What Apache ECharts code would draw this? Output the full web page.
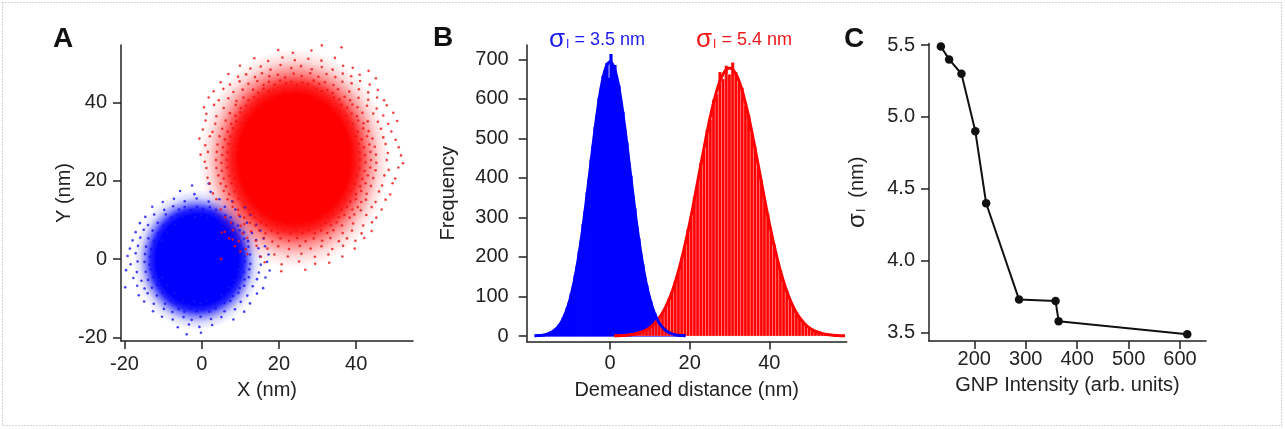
<!DOCTYPE html>
<html><head><meta charset="utf-8">
<script src="https://cdn.jsdelivr.net/npm/echarts@6/dist/echarts.min.js"></script>
<style>html,body{margin:0;padding:0;background:#fff}#c{width:1285px;height:429px}</style>
</head><body><div id="c"></div>
<script>
// ---------- Panel A: localisation clouds (nm) ----------
const ticksA = [-20, 0, 20, 40];
// dense cores: centre, x/y aspect and [radius, opacity] profile
const blueCloudCenter = [-1.1, -0.2];
const blueCloudAspect = 0.93;
const blueCloudProfile = [[0, 1], [11.5, 1], [13, 0.85], [14.5, 0.45], [16, 0.15], [18, 0]];
const redCloudCenter = [24, 25.7];
const redCloudAspect = 0.88;
const redCloudProfile = [[0, 1], [16.5, 1], [19, 0.85], [22, 0.45], [25, 0.15], [28, 0]];
// individual localisations visible around the cores
const blueDots = [
 [-2.5,18.8],[1.8,19.3],[-5.6,17.4],[-1.9,16.6],[2.3,17.2],
 [-10.1,14.6],[-7.2,15.4],[-4.4,14.8],[-1.3,15.5],[1.8,14.7],[4.6,15.3],[7.9,14.8],
 [-12.8,13.4],[-9.7,12.6],[-7.4,13.5],[-5.9,12.7],[-4.4,13.3],[-2.8,12.5],[-1.2,13.4],[0.4,12.8],[2.1,13.3],[3.7,12.6],[6.0,13.4],[8.7,12.7],[11.2,13.2],
 [-9.3,11.4],[-7.8,10.6],[-6.3,11.3],[-4.8,10.7],[-3.2,11.5],[-1.7,10.8],[-0.1,11.3],[1.4,10.6],[3.0,11.4],[4.5,10.8],[6.1,11.2],[7.5,10.7],[-14.6,10.8],[-12.3,11.4],[9.9,10.9],[12.6,11.3],
 [-11.4,9.3],[-9.9,8.6],[-8.4,9.2],[-7.0,8.7],[5.0,9.3],[6.5,8.7],[8.0,9.2],[9.4,8.6],[-16.0,9.2],[-13.9,8.7],[11.7,9.3],[14.1,8.8],
 [-12.7,7.3],[-11.3,6.6],[-9.9,7.4],[-8.9,6.8],[7.1,7.2],[8.5,6.7],[9.8,7.4],[10.9,6.8],[-17.1,6.9],[-15.0,7.5],[13.0,6.7],[15.2,7.3],
 [-13.8,5.3],[-12.4,4.6],[-11.1,5.2],[-10.2,4.8],[8.4,5.4],[9.7,4.7],[11.0,5.2],[12.0,4.6],[-17.9,4.8],[-15.9,5.5],[14.1,4.9],[16.0,5.3],
 [-14.4,3.2],[-13.1,2.6],[-11.9,3.4],[9.4,3.3],[10.7,2.6],[12.1,3.2],[-18.6,2.7],[-16.5,3.4],[14.7,2.8],[16.4,3.3],
 [-14.7,1.3],[-13.4,0.6],[-12.2,1.2],[9.8,1.4],[11.1,0.7],[12.5,1.2],[-19.2,0.8],[-17.1,1.5],[15.1,0.7],[17.3,1.2],
 [-14.8,-0.7],[-13.5,-1.4],[-12.2,-0.8],[9.9,-1.3],[11.2,-0.6],[12.6,-1.2],[-18.4,-1.3],[-16.6,-0.6],[15.3,-1.4],[16.9,-0.7],
 [-14.5,-3.2],[-13.2,-2.6],[-11.9,-3.4],[9.6,-2.7],[10.9,-3.3],[12.3,-2.6],[-19.6,-2.8],[-16.8,-3.3],[14.8,-3.4],[17.6,-2.9],
 [-13.9,-5.3],[-12.5,-4.6],[-11.2,-5.2],[-10.2,-4.7],[8.4,-5.4],[9.8,-4.7],[11.1,-5.2],[12.2,-4.6],[-17.7,-4.8],[-15.6,-5.5],[14.3,-5.1],[16.5,-4.7],
 [-12.9,-7.3],[-11.5,-6.6],[-10.1,-7.4],[-8.9,-6.8],[7.0,-7.2],[8.4,-6.6],[9.8,-7.4],[11.0,-6.8],[-19.8,-7.2],[-16.7,-6.8],[-14.8,-7.5],[13.2,-6.9],[15.9,-7.4],
 [-11.6,-9.3],[-10.1,-8.6],[-8.6,-9.2],[-7.1,-8.7],[5.1,-9.2],[6.6,-8.7],[8.1,-9.4],[9.5,-8.6],[-16.3,-9.2],[-14.0,-8.7],[11.8,-9.3],[14.3,-8.8],
 [-9.5,-11.4],[-8.0,-10.6],[-6.5,-11.3],[-5.0,-10.7],[-3.4,-11.5],[-1.9,-10.8],[-0.3,-11.3],[1.2,-10.6],[2.8,-11.4],[4.3,-10.8],[5.9,-11.2],[7.4,-10.7],[-14.9,-10.8],[-12.4,-11.4],[10.1,-10.9],[12.5,-11.3],
 [-6.0,-12.7],[-4.5,-13.4],[-2.9,-12.6],[-1.3,-13.3],[0.3,-12.8],[2.0,-13.4],[3.6,-12.6],[-12.6,-13.3],[-9.8,-12.7],[-7.6,-13.5],[5.9,-13.3],[8.6,-12.8],[11.0,-13.4],
 [-10.3,-14.7],[-7.5,-15.4],[-4.7,-14.8],[-2.6,-15.5],[-0.3,-14.7],[2.4,-15.3],[5.1,-14.8],[8.2,-15.4],
 [-6.2,-17.4],[-3.3,-16.7],[-0.6,-17.3],[2.7,-16.8],[-3.9,-19.2],[-0.2,-18.8]
];
const redDots = [
 [20.3,55.2],[31.1,54.6],[19.8,53.4],[23.6,52.7],[28.4,53.3],[36.2,54.1],
 [13.6,51.3],[17.2,50.6],[20.9,51.5],[24.1,50.8],[27.6,51.2],[31.0,50.7],[34.5,51.4],
 [9.9,49.4],[12.6,48.7],[15.3,49.2],[17.8,48.4],[20.4,49.6],[23.2,48.8],[25.7,49.3],[28.5,48.5],[31.1,49.1],[33.9,48.4],[36.6,49.4],[39.1,48.9],[43.2,48.1],
 [6.9,47.3],[9.4,46.6],[11.5,47.2],[13.8,46.5],[15.6,47.5],[17.5,46.7],[19.7,47.1],[21.6,46.4],[23.8,47.4],[25.9,46.8],[28.1,47.5],[30.2,46.6],[32.3,47.3],[34.6,46.5],[36.5,47.4],[38.7,46.7],[40.9,47.1],[45.1,46.2],
 [4.9,45.2],[7.3,44.6],[9.8,45.4],[12.1,44.8],[14.4,45.5],[16.0,44.5],[17.4,45.3],[18.9,44.6],[20.3,45.6],[21.8,44.9],[23.2,45.3],[24.6,44.4],[26.1,45.1],[27.5,44.7],[29.0,45.6],[30.4,44.8],[31.9,45.2],[34.1,44.5],[36.4,45.3],[38.8,44.9],[41.0,45.5],[43.5,44.6],
 [13.3,43.3],[14.6,42.5],[16.0,43.5],[17.3,42.8],[18.7,43.1],[20.1,42.4],[21.4,43.4],[22.8,42.9],[24.2,43.6],[25.6,42.6],[27.0,43.2],[28.4,42.5],[29.7,43.4],[31.1,42.9],[32.5,43.2],[33.9,42.4],[35.3,43.4],[3.1,42.9],[5.6,43.5],[8.2,42.7],[10.6,43.3],[38.2,42.8],[40.7,43.4],[43.1,42.6],[45.6,43.2],
 [10.8,41.3],[12.1,40.6],[13.5,41.4],[14.8,40.7],[16.2,41.5],[17.6,40.6],[19.0,41.2],[30.0,40.7],[31.4,41.4],[32.8,40.5],[34.2,41.3],[35.6,40.8],[37.0,41.5],[38.4,40.6],[1.8,41.3],[4.4,40.6],[6.9,41.1],[9.0,40.4],[40.6,41.2],[43.1,40.7],[45.4,41.3],[47.2,40.6],
 [8.8,39.4],[10.1,38.6],[11.5,39.2],[12.9,38.5],[14.3,39.5],[15.6,38.9],[33.4,39.3],[34.8,38.6],[36.2,39.4],[37.6,38.7],[39.0,39.5],[40.3,38.8],[0.6,38.8],[3.2,39.4],[5.7,38.6],[42.8,39.2],[45.3,38.5],[47.9,39.3],
 [7.3,37.3],[8.7,36.6],[10.0,37.5],[11.4,36.7],[12.8,37.1],[36.0,37.4],[37.4,36.6],[38.8,37.2],[40.2,36.5],[41.6,37.4],[1.2,37.1],[3.8,36.5],[44.4,37.2],[47.0,36.7],[49.6,37.4],
 [6.2,35.4],[7.6,34.6],[9.0,35.2],[10.3,34.7],[11.5,35.5],[37.8,35.1],[39.1,34.5],[40.5,35.4],[41.9,34.7],[43.0,35.2],[1.0,35.4],[3.5,34.6],[45.6,35.1],[48.3,34.6],[50.6,35.3],
 [5.3,33.3],[6.7,32.6],[8.1,33.4],[9.5,32.7],[39.0,33.3],[40.4,32.6],[41.8,33.4],[43.2,32.7],[0.3,33.1],[2.8,32.5],[46.4,33.3],[49.1,32.6],
 [4.6,31.4],[6.0,30.6],[7.4,31.3],[8.8,30.7],[40.0,31.3],[41.4,30.6],[42.8,31.4],[44.2,30.8],[-0.6,30.8],[2.1,31.4],[47.0,31.1],[50.2,30.5],
 [4.1,29.3],[5.5,28.6],[6.9,29.4],[8.3,28.7],[40.6,29.4],[42.0,28.6],[43.4,29.3],[44.8,28.7],[0.9,29.1],[47.6,29.4],[51.0,28.6],
 [3.9,27.4],[5.3,26.6],[6.7,27.3],[8.1,26.7],[40.9,27.3],[42.3,26.6],[43.7,27.4],[45.1,26.7],[-0.3,26.7],[1.6,27.4],[48.2,27.1],[51.6,26.5],
 [3.7,25.3],[5.1,24.6],[6.5,25.4],[8.0,24.7],[41.0,25.4],[42.4,24.7],[43.8,25.3],[45.2,24.6],[0.8,24.9],[47.9,25.3],[52.1,24.5],
 [3.8,23.3],[5.2,22.6],[6.6,23.4],[8.1,22.7],[40.8,23.2],[42.2,22.5],[43.6,23.4],[45.0,22.7],[1.2,23.3],[48.4,22.8],[50.9,23.4],
 [4.3,21.4],[5.7,20.6],[7.1,21.3],[8.5,20.7],[40.2,21.3],[41.6,20.5],[43.0,21.4],[44.4,20.7],[1.5,20.8],[47.3,21.4],[50.1,20.6],
 [4.9,19.3],[6.3,18.6],[7.7,19.4],[9.1,18.7],[39.6,19.2],[41.0,18.6],[42.4,19.4],[43.8,18.7],[2.1,19.3],[46.7,18.8],[49.4,19.4],
 [5.7,17.4],[7.1,16.6],[8.5,17.3],[9.9,16.7],[10.9,17.5],[38.5,17.3],[39.9,16.6],[41.3,17.4],[42.7,16.7],[2.9,16.8],[45.9,17.3],[48.8,16.5],
 [6.7,15.3],[8.1,14.6],[9.5,15.4],[10.9,14.7],[12.1,15.3],[37.1,15.4],[38.5,14.7],[39.9,15.3],[41.3,14.6],[42.5,15.2],[3.8,15.3],[45.0,14.6],[47.6,15.2],
 [8.0,13.4],[9.4,12.6],[10.8,13.3],[12.2,12.7],[13.6,13.4],[14.6,12.6],[34.8,13.3],[36.2,12.6],[37.6,13.4],[39.0,12.7],[40.4,13.3],[41.2,12.5],[4.9,12.7],[44.0,13.3],[46.6,12.7],
 [9.6,11.3],[11.0,10.6],[12.4,11.4],[13.8,10.7],[15.2,11.3],[16.6,10.6],[17.8,11.4],[31.3,11.3],[32.7,10.6],[34.1,11.4],[35.5,10.7],[36.9,11.3],[38.3,10.6],[39.5,11.4],[6.1,10.7],[42.6,11.3],[45.2,10.6],
 [12.5,9.3],[13.9,8.6],[15.3,9.4],[16.7,8.7],[18.1,9.3],[19.5,8.5],[20.9,9.4],[22.3,8.7],[23.7,9.5],[25.1,8.6],[26.5,9.3],[27.9,8.7],[29.3,9.4],[30.7,8.6],[32.1,9.3],[33.5,8.7],[34.9,9.4],[36.3,8.6],[7.6,9.3],[10.1,8.5],[39.2,9.1],[41.8,8.6],[44.1,9.4],
 [14.9,7.4],[16.5,6.6],[18.1,7.3],[19.7,6.7],[21.3,7.5],[22.9,6.6],[24.5,7.3],[26.1,6.7],[27.7,7.4],[29.3,6.6],[30.9,7.3],[32.5,6.7],[34.1,7.4],[5.2,6.8],[8.1,7.4],[10.6,6.6],[12.8,7.1],[36.5,6.7],[38.9,7.3],[41.4,6.6],[44.0,7.2],
 [7.1,5.3],[9.6,4.6],[11.8,5.4],[14.0,4.7],[16.1,5.4],[18.3,4.5],[20.4,5.3],[22.6,4.7],[24.7,5.4],[26.9,4.6],[29.0,5.3],[31.2,4.7],[33.3,5.4],[35.5,4.6],[37.6,5.3],[39.8,4.7],[42.1,5.4],
 [8.6,3.3],[11.4,2.6],[14.2,3.4],[17.0,2.7],[19.8,3.3],[22.6,2.6],[25.4,3.4],[28.2,2.7],[31.0,3.3],[33.8,2.6],[36.6,3.4],[39.6,2.7],
 [11.8,1.3],[15.3,0.6],[18.8,1.2],[22.3,0.7],[25.8,1.4],[29.3,0.6],[32.8,1.2],[36.4,0.7],
 [16.3,-0.8],[20.7,-1.3],[25.2,-0.6],[29.4,-1.2],[33.0,-0.9],[20.6,-3.1],[26.8,-2.7],
 [5,0],[8,5],[10,2],[6,7],[11,9]
];

// ---------- Panel B: histograms ----------
const ticksBx = [0, 20, 40];
const ticksBy = [0, 100, 200, 300, 400, 500, 600, 700];
const blueBinWidth = 0.5;
const blueBinCenters = [-16.75,-16.25,-15.75,-15.25,-14.75,-14.25,-13.75,-13.25,-12.75,-12.25,-11.75,-11.25,-10.75,-10.25,-9.75,-9.25,-8.75,-8.25,-7.75,-7.25,-6.75,-6.25,-5.75,-5.25,-4.75,-4.25,-3.75,-3.25,-2.75,-2.25,-1.75,-1.25,-0.75,-0.25,
 0.25,0.75,1.25,1.75,2.25,2.75,3.25,3.75,4.25,4.75,5.25,5.75,6.25,6.75,7.25,7.75,8.25,8.75,9.25,9.75,10.25,10.75,11.25,11.75,12.25,12.75,13.25,13.75,14.25,14.75,15.25,15.75,16.25,16.75];
const blueCounts = [2,4,5,6,9,11,17,20,28,33,45,54,70,84,106,123,152,176,212,240,282,315,361,396,445,480,528,558,601,622,657,668,690,652,
 712,680,684,641,632,590,566,519,488,437,404,354,321,275,246,206,180,147,127,101,87,67,56,42,35,26,22,15,12,8,7,4,4,2];
const redBinWidth = 0.8;
const redBinCenters = [6.0,6.8,7.6,8.4,9.2,10.0,10.8,11.6,12.4,13.2,14.0,14.8,15.6,16.4,17.2,18.0,18.8,19.6,20.4,21.2,22.0,22.8,23.6,24.4,25.2,26.0,26.8,27.6,28.4,29.2,30.0,
 30.8,31.6,32.4,33.2,34.0,34.8,35.6,36.4,37.2,38.0,38.8,39.6,40.4,41.2,42.0,42.8,43.6,44.4,45.2,46.0,46.8,47.6,48.4,49.2,50.0,50.8,51.6,52.4,53.2,54.0];
const redCounts = [5,6,9,13,15,22,27,37,45,60,72,94,111,139,161,198,226,270,301,352,386,438,470,522,548,598,612,668,650,684,662,
 692,668,640,628,584,560,512,480,428,394,342,309,262,232,192,167,133,115,90,76,57,47,35,29,20,17,11,9,6,5];
const blueFitX = [-19,-18,-17,-16,-15,-14,-13,-12,-11,-10,-9,-8,-7,-6,-5,-4,-3,-2,-1,0,1,2,3,4,5,6,7,8,9,10,11,12,13,14,15,16,17,18,19];
const blueFitY = [0.5,1.1,2.1,4.1,7.7,13.8,23.6,39,61.7,94,137,193,260,338,421,504,580,641,680,694,680,641,580,504,421,338,260,193,137,94,61.7,39,23.6,13.8,7.7,4.1,2.1,1.1,0.5];
const redFitX = [1,2,3,4,5,6,7,8,9,10,11,12,13,14,15,16,17,18,19,20,21,22,23,24,25,26,27,28,29,30,31,32,33,34,35,36,37,38,39,40,41,42,43,44,45,46,47,48,49,50,51,52,53,54,55,56,57,58,59];
const redFitY = [0.5,0.8,1.2,1.9,3,4.6,7,10.3,14.9,21.2,29.8,41,55.5,73.9,96.7,124,157,195,238,285,336,390,444,496,546,590,627,655,672,678,
 672,655,627,590,546,496,444,390,336,285,238,195,157,124,96.7,73.9,55.5,41,29.8,21.2,14.9,10.3,7,4.6,3,1.9,1.2,0.8,0.5];

// ---------- Panel C ----------
const ticksCx = [200, 300, 400, 500, 600];
const ticksCy = [3.5, 4.0, 4.5, 5.0, 5.5];
const gnpIntensity = [135, 151, 175, 202, 223, 287, 358, 364, 614];
const sigmaI = [5.49, 5.40, 5.30, 4.90, 4.40, 3.73, 3.72, 3.58, 3.49];

// ---------- styling ----------
const FONT = 'Liberation Sans, Arial, Helvetica, sans-serif';
const AX = '#222';
const BLUE = '#0000ff', RED = '#ff0000';

function axisBase(ticks, margin, fmt) {
  return {
    type: 'value',
    axisLine: {show: true, onZero: false, lineStyle: {color: AX, width: 1.5}},
    axisTick: {show: true, inside: false, length: 8, customValues: ticks, lineStyle: {color: AX, width: 1.5}},
    axisLabel: {show: true, customValues: ticks, margin: margin, fontSize: 20, color: AX, fontFamily: FONT,
      formatter: fmt || (v => String(v))},
    splitLine: {show: false},
    nameLocation: 'middle',
    nameTextStyle: {fontSize: 20, color: AX, fontFamily: FONT}
  };
}
function rgba(hex, a) {
  const r = parseInt(hex.slice(1,3),16), g = parseInt(hex.slice(3,5),16), b = parseInt(hex.slice(5,7),16);
  return 'rgba(' + r + ',' + g + ',' + b + ',' + a + ')';
}
function cloudSeries(center, aspect, profile, color) {
  return {
    type: 'custom', xAxisIndex: 0, yAxisIndex: 0, silent: true,
    data: [center],
    renderItem: function (params, api) {
      const c = api.coord([api.value(0), api.value(1)]);
      const rMax = profile[profile.length - 1][0];
      const ry = api.size([rMax, rMax])[1];
      const stops = profile.map(p => ({offset: p[0] / rMax, color: rgba(color, p[1])}));
      return {type: 'circle', x: c[0], y: c[1], scaleX: aspect * api.size([1, 1])[0] / api.size([1, 1])[1],
        shape: {cx: 0, cy: 0, r: ry},
        style: {fill: new echarts.graphic.RadialGradient(0.5, 0.5, 0.5, stops)}};
    }
  };
}
function histSeries(centers, counts, width, color, stroke, lw, xi) {
  return {
    type: 'custom', xAxisIndex: xi, yAxisIndex: xi, silent: true,
    data: centers.map((x, i) => [x, counts[i]]),
    renderItem: function (params, api) {
      const x = api.value(0), y = api.value(1);
      const p0 = api.coord([x - width / 2, y]);
      const p1 = api.coord([x + width / 2, 0]);
      return {type: 'rect', shape: {x: p0[0], y: p0[1], width: p1[0] - p0[0], height: p1[1] - p0[1]},
        style: {fill: color, stroke: stroke, lineWidth: lw}};
    }
  };
}

const chart = echarts.init(document.getElementById('c'), null, {renderer: 'canvas'});
const option = {
  animation: false,
  backgroundColor: '#fff',
  textStyle: {fontFamily: FONT},
  grid: [
    {left: 121, top: 45, width: 292, height: 296},
    {left: 526.7, top: 45, width: 320, height: 296.5},
    {left: 929, top: 43.5, width: 277, height: 297.5}
  ],
  xAxis: [
    Object.assign(axisBase(ticksA, 13), {gridIndex: 0, min: -20.9, max: 54.7, name: 'X (nm)', nameGap: 39}),
    Object.assign(axisBase(ticksBx, 12), {gridIndex: 1, min: -20.92, max: 59.43, name: 'Demeaned distance (nm)', nameGap: 39}),
    Object.assign(axisBase(ticksCx, 8), {gridIndex: 2, min: 111.9, max: 650.5, name: 'GNP Intensity (arb. units)', nameGap: 34})
  ],
  yAxis: [
    Object.assign(axisBase(ticksA, 14), {gridIndex: 0, min: -20.9, max: 54.7, name: 'Y (nm)', nameGap: 47}),
    Object.assign(axisBase(ticksBy, 18), {gridIndex: 1, min: -13.9, max: 736.2, name: 'Frequency', nameGap: 68}),
    Object.assign(axisBase(ticksCy, 14, v => v.toFixed(1)), {gridIndex: 2, min: 3.4423, max: 5.5104,
      name: '{s|σ}{sub|I}{t|  (nm)}', nameGap: 60,
      nameTextStyle: {fontSize: 20, color: AX, fontFamily: FONT,
        rich: {s: {fontSize: 24, color: AX, fontFamily: FONT}, sub: {fontSize: 12, color: AX, fontFamily: FONT, padding: [10, 0, 0, 1]}, t: {fontSize: 20, color: AX, fontFamily: FONT}}}})
  ],
  series: [
    cloudSeries(blueCloudCenter, blueCloudAspect, blueCloudProfile, BLUE),
    {type: 'scatter', xAxisIndex: 0, yAxisIndex: 0, data: blueDots, symbolSize: 2.6, itemStyle: {color: '#1414ee'}, silent: true},
    cloudSeries(redCloudCenter, redCloudAspect, redCloudProfile, RED),
    {type: 'scatter', xAxisIndex: 0, yAxisIndex: 0, data: redDots, symbolSize: 2.6, itemStyle: {color: '#f01414'}, silent: true},

    histSeries(blueBinCenters, blueCounts, blueBinWidth, BLUE, BLUE, 1.2, 1),
    histSeries(redBinCenters, redCounts, redBinWidth, RED, 'rgba(255,215,215,0.55)', 0.5, 1),
    {type: 'line', xAxisIndex: 1, yAxisIndex: 1, data: redFitX.map((x, i) => [x, redFitY[i]]), symbol: 'none',
      smooth: 0.3, lineStyle: {color: RED, width: 3}, silent: true},
    {type: 'line', xAxisIndex: 1, yAxisIndex: 1, data: blueFitX.map((x, i) => [x, blueFitY[i]]), symbol: 'none',
      smooth: 0.3, lineStyle: {color: BLUE, width: 3}, silent: true},

    {type: 'line', xAxisIndex: 2, yAxisIndex: 2, data: gnpIntensity.map((x, i) => [x, sigmaI[i]]),
      symbol: 'circle', symbolSize: 8.5, itemStyle: {color: '#111'}, lineStyle: {color: '#111', width: 2}, silent: true}
  ],
  graphic: [
    {type: 'rect', silent: true, shape: {x: 2.5, y: 2.5, width: 1279, height: 423},
      style: {fill: 'none', stroke: '#aaa', lineWidth: 1, lineDash: [1, 2]}},
    {type: 'text', x: 53, y: 39.5, silent: true, style: {text: 'A', font: 'bold 28px ' + FONT, fill: '#111', verticalAlign: 'middle'}},
    {type: 'text', x: 433, y: 38.5, silent: true, style: {text: 'B', font: 'bold 28px ' + FONT, fill: '#111', verticalAlign: 'middle'}},
    {type: 'text', x: 844, y: 39.5, silent: true, style: {text: 'C', font: 'bold 28px ' + FONT, fill: '#111', verticalAlign: 'middle'}},
    {type: 'text', x: 597, y: 40, silent: true, style: {
      text: '{s|σ}{sub|I}{t| = 3.5 nm}', align: 'center', verticalAlign: 'middle', fill: '#1c1cf0',
      rich: {s: {fontSize: 26, fontFamily: FONT, fill: '#1c1cf0'}, sub: {fontSize: 12, fontFamily: FONT, fill: '#1c1cf0', padding: [10, 0, 0, 1]}, t: {fontSize: 18, fontFamily: FONT, fill: '#1c1cf0'}}}},
    {type: 'text', x: 744, y: 40, silent: true, style: {
      text: '{s|σ}{sub|I}{t| = 5.4 nm}', align: 'center', verticalAlign: 'middle', fill: '#f01818',
      rich: {s: {fontSize: 26, fontFamily: FONT, fill: '#f01818'}, sub: {fontSize: 12, fontFamily: FONT, fill: '#f01818', padding: [10, 0, 0, 1]}, t: {fontSize: 18, fontFamily: FONT, fill: '#f01818'}}}}
  ]
};
chart.setOption(option);
</script></body></html>
